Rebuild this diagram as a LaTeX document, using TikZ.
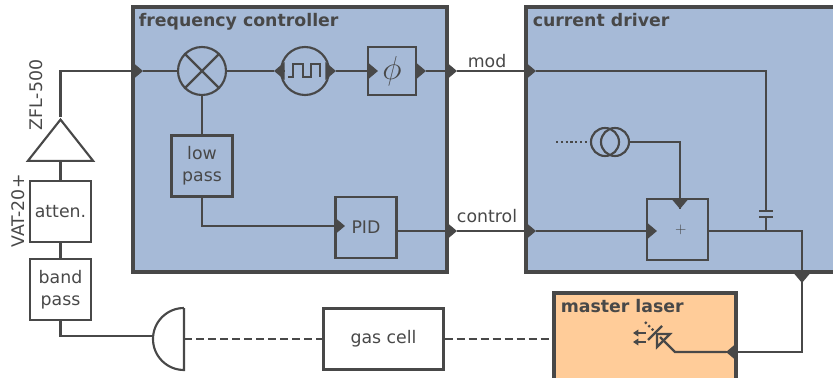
\documentclass[tikz,border=0pt]{standalone}
\usepackage{fontspec}
\setmainfont{DejaVu Sans}
\usetikzlibrary{shapes.geometric,arrows.meta,positioning}
\definecolor{ink}{HTML}{484848}
\definecolor{panelblue}{HTML}{A6BAD7}
\definecolor{panelorange}{HTML}{FFCC99}
\tikzstyle{wire} = [draw=ink, line width=1.6pt]
\tikzstyle{tip} = [wire, -{Triangle[length=8pt,width=13pt,fill=ink]}]
\tikzstyle{panel} = [draw=ink, line width=2.6pt]
\tikzstyle{title} = [anchor=north west, inner sep=0pt, text=ink, font=\fontsize{13}{15}\selectfont\bfseries]
\tikzstyle{block} = [rectangle, draw=ink, line width=1.6pt, inner sep=0pt, text=ink, align=center, minimum width=45.75pt, minimum height=45.75pt, font=\fontsize{13}{16.5}\selectfont]
\tikzstyle{round} = [circle, draw=ink, line width=1.6pt, inner sep=0pt, minimum size=36pt]
\tikzstyle{tag} = [text=ink, inner sep=0pt, font=\fontsize{13}{15}\selectfont]
\begin{document}
\begin{tikzpicture}[x=0.75pt,y=-0.75pt]
\clip (0,0) rectangle (833,378);
% panels run off the page on purpose
\path[panel, fill=panelblue] (133,7) rectangle (447,272);
\path[panel, fill=panelblue] (526,7) rectangle (850,272);
\path[panel, fill=panelorange] (554,293) rectangle (736,400);
\node[title] (freqtitle) at (138.5,13) {frequency controller};
\node[title] (drivertitle) at (532.5,13) {current driver};
\node[title] (lasertitle) at (560.5,299) {master laser};

% input chain
\node[block] (bandpass) at (60.5,289.5) {band\\pass};
\node[block, above=11.25pt of bandpass] (atten) {atten.};
\node[isosceles triangle, isosceles triangle stretches, shape border rotate=90, draw=ink, line width=1.6pt, inner sep=0pt, minimum width=49pt, minimum height=31pt, anchor=lower side] (amp) at (60.5,162) {};
\node[tag, rotate=90] (zfl) at (36,95) {ZFL-500};
\node[tag, rotate=90] (vat) at (18,211) {VAT-20+};

% frequency controller
\node[round] (mixer) at (202,71) {};
\draw[wire] (mixer.north west) -- (mixer.south east);
\draw[wire] (mixer.north east) -- (mixer.south west);
\node[round] (clock) at (305,71) {};
\draw[wire] (288,77) -- (293,77) -- (293,64) -- (303,64) -- (303,77) -- (311,77) -- (311,64) -- (320,64) -- (320,77);
\node[block, minimum width=36pt, minimum height=36pt, font=\fontsize{24}{25}\selectfont] (phase) at (392,71) {$\phi$};
\node[block] (lowpass) at (202,166) {low\\pass};
\node[block] (pid) at (366,227.5) {PID};

% current driver
\node[block, font=\fontsize{11}{13}\selectfont] (adder) at (677.5,229.5) {\hspace{5pt}$+$};
\node[circle, draw=ink, line width=1.6pt, inner sep=0pt, minimum size=21pt] (srcA) at (605,142) {};
\node[circle, draw=ink, line width=1.6pt, inner sep=0pt, minimum size=21pt] (srcB) at (615,142) {};
\coordinate (srcfree) at (556,142);
\draw[wire, dotted] (srcfree) -- (srcA.west);

% ports
\coordinate (fcin) at (143,71);
\coordinate (clockL) at (274,71);
\coordinate (clockLb) at (284,71);
\coordinate (clockR) at (336,71);
\coordinate (clockRb) at (326,71);
\coordinate (phaseIn) at (378,71);
\coordinate (phaseOut) at (426,71);
\coordinate (modA) at (457,71);
\coordinate (modB) at (536,71);
\coordinate (lowturn) at (202,226);
\coordinate (pidIn) at (345,226);
\coordinate (ctrlA) at (457,231);
\coordinate (ctrlB) at (536,231);
\coordinate (adderL) at (657,231);
\coordinate (adderT) at (680,209);
\coordinate (capTop) at (766,211);
\coordinate (capBot) at (766,217);
\coordinate (junction) at (766,231);
\coordinate (busIn) at (802,283);
\coordinate (busTurn) at (802,231);
\coordinate (laserIn) at (726,352);

% connectors
\draw[tip] (amp.apex) |- (fcin);
\draw[wire] (fcin) -- (mixer.west);
\draw[wire] (mixer.east) -- (clockL);
\draw[tip] (clockLb) -- (clockL);
\draw[tip] (clockRb) -- (clockR);
\draw[wire] (clockR) -- (phase.west);
\draw[tip] (phase.west) -- (phaseIn);
\draw[tip] (phase.east) -- (phaseOut);
\draw[tip] (phaseOut) -- (modA);
\draw[tip] (modA) -- node[tag, pos=0.38, above=1.5pt] (modlabel) {mod} (modB);
\draw[wire] (modB) -| (capTop);
\draw[wire] (capBot) -- (junction);
\draw[wire] (759,211) -- (773,211);
\draw[wire] (759,217) -- (773,217);
\draw[wire] (mixer.south) -- (lowpass.north);
\draw[wire] (lowpass.south) |- (lowturn) -- (pid.west |- lowturn);
\draw[tip] (pid.west |- lowturn) -- (pidIn);
\draw[tip] (pid.east |- ctrlA) -- (ctrlA);
\draw[tip] (ctrlA) -- node[tag, pos=0.38, above=5.5pt] (ctrllabel) {control} (ctrlB);
\draw[wire] (ctrlB) -- (adder.west |- ctrlB);
\draw[tip] (adder.west |- ctrlB) -- (adderL);
\draw[wire] (srcB.east) -| (adderT);
\draw[tip] (680,199) -- (adderT);
\draw[wire] (adder.east |- busTurn) -- (busTurn) -- (busIn);
\draw[tip] (802,272) -- (busIn);
\draw[wire] (busIn) |- (laserIn);
\draw[tip] (736,352) -- (laserIn);

% laser diode symbol
\coordinate (diodeLead) at (675,352);
\draw[wire] (laserIn) -- (diodeLead) -- (660,337);
\draw[wire, line join=miter] (657,334) -- (657,347) -- (670,334) -- cycle;
\draw[wire] (648,340) -- (662,326);
\draw[wire, dotted] (645,322) -- (655,332);
\draw[wire, line width=1.2pt, -{Triangle[length=4pt,width=5pt]}] (646,333) -- (633,333);
\draw[wire, line width=1.2pt, -{Triangle[length=4pt,width=5pt]}] (646,342) -- (633,342);

% amplifier chain and optics
\draw[wire] (amp.lower side) -- (atten.north);
\draw[wire] (atten.south) -- (bandpass.north);
\coordinate (detIn) at (153,336);
\draw[wire] (bandpass.south) |- (detIn);
\draw[wire] (184,308) -- (184,370) arc[start angle=90, end angle=270, radius=31];
\coordinate (detOut) at (184,339);
\node[block, minimum width=90pt] (gascell) at (383.5,339) {gas cell};
\draw[wire, dash pattern=on 6pt off 3pt] (detOut) -- (gascell.west);
\draw[wire, dash pattern=on 6pt off 3pt] (gascell.east) -- (554,339);
\end{tikzpicture}
\end{document}
